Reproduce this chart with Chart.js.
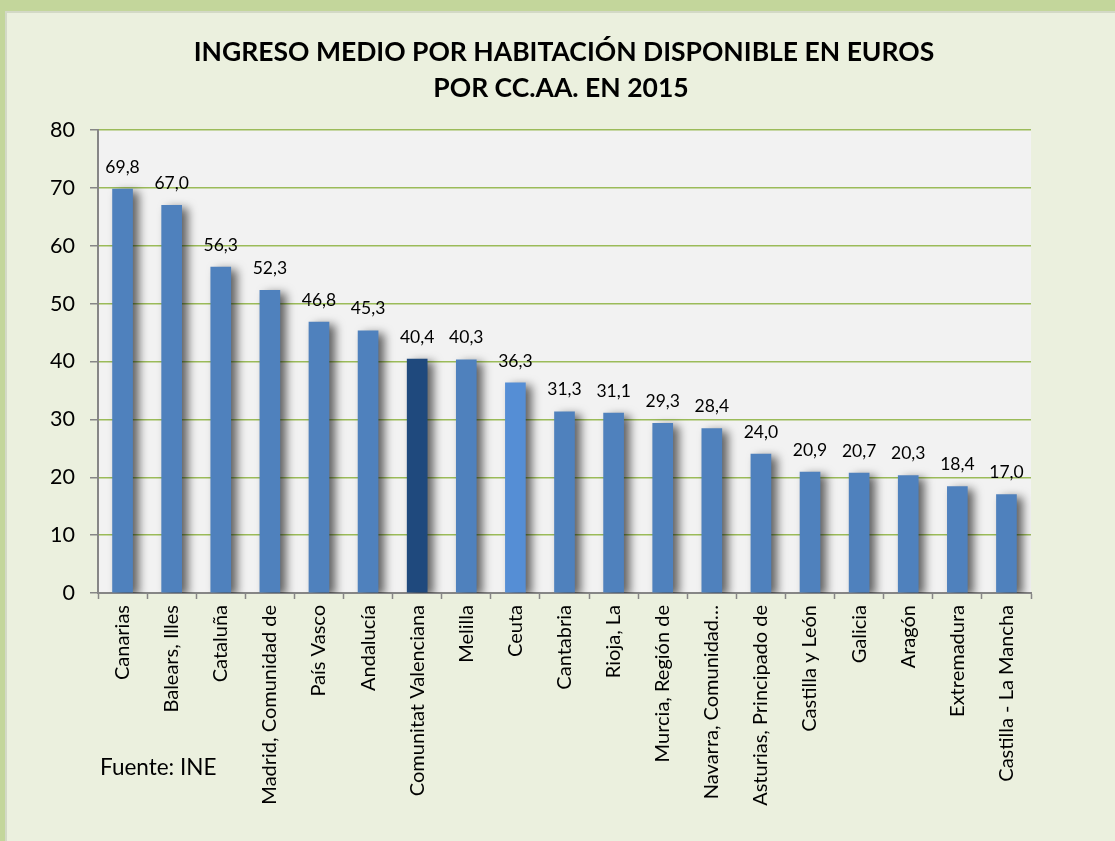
<!DOCTYPE html>
<html>
<head>
<meta charset="utf-8">
<script src="https://cdn.jsdelivr.net/npm/chart.js@4.4.1/dist/chart.umd.min.js"></script>
<style>
  html, body { margin: 0; padding: 0; }
  body { width: 1115px; height: 841px; background: #c3d69b; position: relative; overflow: hidden; }
  #panel { position: absolute; left: 5px; top: 11px; right: 0; bottom: 0; background: #ebf0de; border-top: 2px solid #d3d9c6; border-left: 2px solid #d3d9c6; }
  #wrap { position: absolute; left: 0; top: 0; width: 1115px; height: 841px; }
</style>
</head>
<body>
<div id="panel"></div>
<div id="wrap"><canvas id="c" width="1115" height="841"></canvas></div>
<script>
const titleLines = ['INGRESO MEDIO POR HABITACIÓN DISPONIBLE EN EUROS', 'POR CC.AA. EN 2015'];
const sourceNote = 'Fuente: INE';
const categories = [
  'Canarias', 'Balears, Illes', 'Cataluña', 'Madrid, Comunidad de', 'País Vasco',
  'Andalucía', 'Comunitat Valenciana', 'Melilla', 'Ceuta', 'Cantabria', 'Rioja, La',
  'Murcia, Región de', 'Navarra, Comunidad…', 'Asturias, Principado de',
  'Castilla y León', 'Galicia', 'Aragón', 'Extremadura', 'Castilla - La Mancha'
];
const values = [69.8, 67.0, 56.3, 52.3, 46.8, 45.3, 40.4, 40.3, 36.3, 31.3, 31.1, 29.3, 28.4, 24.0, 20.9, 20.7, 20.3, 18.4, 17.0];
const yTicks = [0, 10, 20, 30, 40, 50, 60, 70, 80];

const FONT = 'Lato, "Open Sans", sans-serif';
const BASE_COLOR = '#4f81bd';
const SPECIAL_COLORS = { 'Comunitat Valenciana': '#1f497d', 'Ceuta': '#558ed5' };

const bgPlugin = {
  id: 'plotBg',
  beforeDraw(chart) {
    const { ctx, chartArea: a } = chart;
    ctx.save();
    ctx.fillStyle = '#f2f2f2';
    ctx.fillRect(a.left, a.top, a.right - a.left, a.bottom - a.top);
    ctx.restore();
  }
};

const shadowPlugin = {
  id: 'barShadow',
  beforeDatasetsDraw(chart) {
    const ctx = chart.ctx;
    ctx.save();
    ctx.shadowColor = 'rgba(0,0,0,0.6)';
    ctx.shadowBlur = 10;
    ctx.shadowOffsetX = 6;
    ctx.shadowOffsetY = 3;
  },
  afterDatasetsDraw(chart) {
    chart.ctx.restore();
  }
};

const labelPlugin = {
  id: 'valueLabels',
  afterDatasetsDraw(chart) {
    const ctx = chart.ctx;
    const meta = chart.getDatasetMeta(0);
    ctx.save();
    ctx.font = '17.5px ' + FONT;
    ctx.fillStyle = '#000';
    ctx.textAlign = 'center';
    ctx.textBaseline = 'middle';
    meta.data.forEach((bar, i) => {
      const v = chart.data.datasets[0].data[i];
      ctx.fillText(v.toFixed(1).replace('.', ','), bar.x, bar.y - 22);
    });
    ctx.restore();
  }
};

const textPlugin = {
  id: 'texts',
  afterDraw(chart) {
    const ctx = chart.ctx;
    ctx.save();
    ctx.fillStyle = '#000';
    ctx.textAlign = 'center';
    ctx.textBaseline = 'middle';
    ctx.font = 'bold 26.5px ' + FONT;
    ctx.fillText(titleLines[0], 564, 52);
    ctx.fillText(titleLines[1], 561, 88);
    ctx.textAlign = 'left';
    ctx.font = '22.5px ' + FONT;
    ctx.fillText(sourceNote, 100, 768);
    ctx.restore();
  }
};

new Chart(document.getElementById('c'), {
  type: 'bar',
  data: {
    labels: categories,
    datasets: [{
      data: values,
      backgroundColor: categories.map(c => SPECIAL_COLORS[c] || BASE_COLOR),
      borderWidth: 0,
      barThickness: 20
    }]
  },
  options: {
    responsive: false,
    animation: false,
    devicePixelRatio: 1,
    layout: { padding: { top: 130, right: 84, bottom: 0, left: 0 } },
    plugins: {
      legend: { display: false },
      title: { display: false },
      tooltip: { enabled: false }
    },
    scales: {
      x: {
        grid: { display: true, drawOnChartArea: false, offset: true, tickLength: 6, tickColor: '#868686', tickWidth: 1.5 },
        border: { color: '#868686', width: 2 },
        ticks: {
          color: '#000',
          font: { family: FONT, size: 20 },
          maxRotation: 90, minRotation: 90,
          autoSkip: false,
          padding: 6
        },
        afterFit(scale) { scale.height = 248; }
      },
      y: {
        min: 0, max: 80,
        afterBuildTicks(scale) { scale.ticks = yTicks.map(v => ({ value: v })); },
        grid: { color: '#9bbb59', lineWidth: 1.5, tickLength: 8, tickColor: '#868686', tickWidth: 1.5 },
        border: { color: '#868686', width: 2 },
        ticks: {
          color: '#000',
          font: { family: FONT, size: 21.5 },
          padding: 15
        },
        afterFit(scale) { scale.width = 98; }
      }
    }
  },
  plugins: [bgPlugin, shadowPlugin, labelPlugin, textPlugin]
});
</script>
</body>
</html>
